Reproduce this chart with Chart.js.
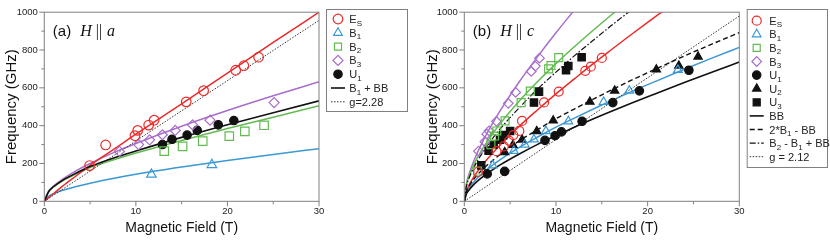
<!DOCTYPE html>
<html>
<head>
<meta charset="utf-8">
<script src="https://cdn.jsdelivr.net/npm/chart.js@4/dist/chart.umd.min.js"></script>
<style>
  body { margin: 0; background: #fff; }
  .panel { position: absolute; top: 0; width: 415px; height: 243px; }
</style>
</head>
<body>
<div class="panel" style="left:0"><canvas id="panelA" width="415" height="243"></canvas></div>
<div class="panel" style="left:415px"><canvas id="panelB" width="415" height="243"></canvas></div>
<script>
// ---- panel (a): H || a ----
const esFieldA = [4.95, 6.7, 9.9, 10.2, 11.4, 12.0, 15.5, 17.4, 20.9, 21.8, 23.4];
const esFreqA = [189, 298, 347, 375, 403, 429, 526, 585, 693, 717, 762];
const b1FieldA = [11.7, 18.3];
const b1FreqA = [142, 193];
const b2FieldA = [13.1, 15.1, 17.3, 20.2, 21.9, 24.0];
const b2FreqA = [265, 290, 318, 345, 370, 402];
const b3FieldA = [8.2, 10.3, 11.5, 12.9, 14.3, 16.2, 18.1, 25.1];
const b3FreqA = [264, 300, 325, 352, 375, 404, 429, 522];
const u1FieldA = [12.9, 13.95, 15.6, 16.7, 19.0, 20.7];
const u1FreqA = [300, 328, 350, 375, 404, 427];

// fitted curves of panel (a)
const curveFieldA = [0, 0.5, 1, 2, 3.5, 5, 7.5, 10, 15, 20, 25, 30];
const esCurveA = [0, 20, 40, 80, 135, 190, 272, 355, 515, 678, 840, 1000];
const b1CurveA = [0, 28, 40, 58, 78, 96, 121, 143, 181, 216, 248, 278];
const b2CurveA = [0, 52, 75, 108, 145, 178, 218, 255, 322, 385, 445, 505];
const b3CurveA = [0, 55, 80, 117, 162, 200, 256, 306, 397, 480, 558, 632];
const b1bbCurveA = [0, 53, 77, 111, 150, 184, 228, 266, 338, 405, 468, 531];
const gFieldA = [0, 30];
const gCurveA = [0, 957];

// ---- panel (b): H || c ----
const esFieldB = [1.5, 3.5, 4.3, 4.9, 5.35, 6.0, 6.3, 8.7, 10.3, 13.2, 13.8, 15.0];
const esFreqB = [155, 265, 290, 320, 350, 372, 425, 523, 580, 690, 712, 758];
const b1FieldB = [3.1, 5.4, 6.6, 7.6, 8.9, 11.35, 15.2, 18.0, 23.3];
const b1FreqB = [190, 267, 300, 327, 371, 423, 525, 585, 695];
const b2FieldB = [1.45, 2.9, 3.3, 3.55, 4.45, 6.2, 7.2, 9.2, 9.45, 10.3];
const b2FreqB = [160, 300, 345, 372, 425, 522, 583, 700, 718, 760];
const b3FieldB = [1.55, 2.25, 2.45, 2.7, 3.5, 4.8, 5.6, 7.3, 7.75, 8.2];
const b3FreqB = [265, 315, 355, 372, 423, 518, 576, 687, 715, 757];
const u1FieldB = [2.5, 4.4, 8.8, 9.9, 10.6, 12.85, 16.2, 19.1, 24.5];
const u1FreqB = [145, 158, 322, 347, 367, 423, 522, 584, 693];
const u2FieldB = [4.4, 5.3, 6.3, 7.9, 9.7, 13.7, 16.4, 20.95, 23.4, 25.5];
const u2FreqB = [260, 298, 326, 371, 427, 526, 585, 697, 717, 765];
const u3FieldB = [1.85, 2.65, 3.2, 3.9, 4.25, 5.0, 7.6, 8.15, 11.1, 11.35, 12.8];
const u3FreqB = [190, 268, 300, 326, 350, 372, 522, 580, 693, 715, 762];

const curveFieldB = [0, 0.25, 0.5, 1, 2, 3, 4, 6, 8, 10, 12, 15, 18, 21, 24, 27, 30];
const b1CurveB = [0, 48, 69, 101, 149, 188, 223, 285, 340, 392, 440, 509, 575, 637, 698, 757, 814];
const bbCurveB = [0, 41, 59, 87, 129, 164, 195, 250, 301, 347, 392, 455, 515, 572, 628, 683, 736];
const twoB1CurveB = [0, 54, 79, 115, 169, 212, 251, 320, 379, 437, 488, 563, 635, 702, 768, 831, 892];
const esCurveFieldB = [0, 0.25, 0.5, 1, 2, 3, 4, 6, 8, 10, 12, 14, 16, 18, 20, 22];
const esCurveB = [0, 57, 84, 127, 193, 250, 302, 397, 484, 568, 647, 725, 800, 874, 946, 1017];
const b3CurveFieldB = [0, 0.25, 0.5, 1, 2, 3, 4, 6, 8, 10, 12];
const b3CurveB = [0, 96, 141, 209, 316, 405, 486, 632, 765, 891, 1011];
const b2CurveFieldB = [0, 0.25, 0.5, 1, 2, 3, 4, 6, 8, 10, 12, 14, 16, 16.5];
const b2CurveB = [0, 90, 130, 189, 278, 351, 416, 530, 633, 728, 817, 902, 984, 1004];
const mixCurveFieldB = [0, 0.25, 0.5, 1, 2, 3, 4, 6, 8, 10, 12, 14, 16, 18];
const mixCurveB = [0, 83, 120, 175, 258, 327, 388, 495, 594, 683, 769, 849, 928, 1003];
const gFieldB = [0, 30];
const gCurveB = [0, 980];

const yTicks = [0, 200, 400, 600, 800, 1000];
const xTicks = [0, 10, 20, 30];

const RED = '#ec2a2a', BLUE = '#3b98d4', GREEN = '#62bb50', PURPLE = '#a86dca', BLACK = '#111';
const FONT = '"Liberation Sans", Arial, Helvetica, sans-serif';
const SERIF = '"Liberation Serif", "Times New Roman", serif';

function pts(xs, ys) {
  return xs.map((x, i) => ({ x: x, y: ys[i] }));
}

function markers(xs, ys, style, color, radius, filled) {
  return {
    data: pts(xs, ys), showLine: false, pointStyle: style, pointRadius: radius,
    borderColor: color, backgroundColor: filled ? color : 'rgba(0,0,0,0)',
    borderWidth: 1.2, pointBorderWidth: 1.2
  };
}

function curve(xs, ys, color, width, dash) {
  return {
    data: pts(xs, ys), showLine: true, borderColor: color, borderWidth: width,
    borderDash: dash || [], pointRadius: 0, cubicInterpolationMode: 'monotone', fill: false
  };
}

// draws a point symbol like chart.js does (used for the legend)
function drawMark(ctx, style, x, y, r) {
  ctx.beginPath();
  if (style === 'circle') {
    ctx.arc(x, y, r, 0, Math.PI * 2);
  } else if (style === 'triangle') {
    ctx.moveTo(x, y - r);
    ctx.lineTo(x + r * 0.866, y + r * 0.5);
    ctx.lineTo(x - r * 0.866, y + r * 0.5);
    ctx.closePath();
  } else if (style === 'rect') {
    const h = r * Math.SQRT1_2;
    ctx.rect(x - h, y - h, 2 * h, 2 * h);
  } else if (style === 'rectRot') {
    ctx.moveTo(x - r, y); ctx.lineTo(x, y - r); ctx.lineTo(x + r, y); ctx.lineTo(x, y + r);
    ctx.closePath();
  }
  ctx.fill();
  ctx.stroke();
}

// frame, minor ticks, panel label and boxed legend
const decor = {
  id: 'decor',
  afterDraw(chart, args, o) {
    const { ctx, chartArea: a, scales: { x, y } } = chart;
    ctx.save();
    ctx.strokeStyle = '#808080';
    ctx.lineWidth = 1;
    ctx.strokeRect(a.left, a.top, a.right - a.left, a.bottom - a.top);
    ctx.beginPath();
    for (let v = y.min; v <= y.max; v += 100) {
      const py = y.getPixelForValue(v);
      const len = yTicks.includes(v) ? 5 : 3;
      ctx.moveTo(a.left - len, py); ctx.lineTo(a.left, py);
    }
    for (let v = x.min; v <= x.max; v += 5) {
      const px = x.getPixelForValue(v);
      const len = xTicks.includes(v) ? 5 : 3;
      ctx.moveTo(px, a.bottom); ctx.lineTo(px, a.bottom + len);
    }
    ctx.stroke();

    // panel label, e.g. "(a) H || a"
    ctx.fillStyle = '#111';
    ctx.textBaseline = 'alphabetic';
    const by = a.top + 24;
    let tx = a.left + 8.5;
    ctx.font = '15px ' + FONT;
    ctx.fillText(o.tag, tx, by);
    tx += ctx.measureText(o.tag).width + 9;
    ctx.font = 'italic 16px ' + SERIF;
    ctx.fillText('H', tx, by);
    tx += ctx.measureText('H').width + 4;
    ctx.font = '16px ' + SERIF;
    ctx.fillText('||', tx, by);
    tx += ctx.measureText('||').width + 5;
    ctx.font = 'italic 16px ' + SERIF;
    ctx.fillText(o.dir, tx, by);

    // legend box
    const L = o.legend;
    ctx.strokeStyle = '#808080';
    ctx.lineWidth = 1;
    ctx.strokeRect(L.x + 0.5, L.y + 0.5, L.w, L.h);
    L.rows.forEach((row, i) => {
      const ds = chart.data.datasets[row.ds];
      const cy = L.y + L.first + i * L.step;
      const mx = L.x + L.markX;
      ctx.save();
      ctx.strokeStyle = ds.borderColor;
      ctx.fillStyle = ds.backgroundColor;
      ctx.lineWidth = ds.borderWidth;
      if (ds.showLine) {
        ctx.setLineDash(ds.borderDash || []);
        ctx.beginPath();
        ctx.moveTo(mx - 7, cy); ctx.lineTo(mx + 7, cy);
        ctx.stroke();
      } else {
        drawMark(ctx, ds.pointStyle, mx, cy, Math.min(ds.pointRadius, 5));
      }
      ctx.restore();
      let lx = L.x + L.textX;
      row.parts.forEach(p => {
        const sub = p[1] === 1;
        ctx.font = (sub ? '8px ' : '11px ') + FONT;
        ctx.fillStyle = '#222';
        ctx.fillText(p[0], lx, cy + (sub ? 6.5 : 4));
        lx += ctx.measureText(p[0]).width;
      });
    });
    ctx.restore();
  }
};

function scales(yWidth, yTitlePad) {
  return {
    x: {
      type: 'linear', min: 0, max: 30,
      grid: { display: false, drawTicks: false }, border: { display: false },
      afterBuildTicks: s => { s.ticks = xTicks.map(v => ({ value: v })); },
      ticks: { padding: 4, color: '#222', maxRotation: 0, font: { family: FONT, size: 9.5 }, callback: v => String(v) },
      title: { display: true, text: 'Magnetic Field (T)', color: '#111', font: { family: FONT, size: 14 }, padding: { top: 2, bottom: 6.5 } },
      afterFit: s => { s.height = 41.7; }
    },
    y: {
      type: 'linear', min: 0, max: 1000,
      grid: { display: false, drawTicks: false }, border: { display: false },
      afterBuildTicks: s => { s.ticks = yTicks.map(v => ({ value: v })); },
      ticks: { padding: 6.5, color: '#222', font: { family: FONT, size: 9.5 }, callback: v => String(v) },
      title: { display: true, text: 'Frequency (GHz)', color: '#111', font: { family: FONT, size: 15 }, padding: { top: yTitlePad, bottom: 0 } },
      afterFit: s => { s.width = yWidth; }
    }
  };
}

function baseOptions(yWidth, yTitlePad, rightPad, deco) {
  return {
    responsive: false, animation: false, events: [],
    layout: { padding: { left: 0, right: rightPad, top: 9.3, bottom: 0 } },
    scales: scales(yWidth, yTitlePad),
    plugins: { legend: { display: false }, tooltip: { enabled: false }, decor: deco }
  };
}

new Chart(document.getElementById('panelA'), {
  type: 'scatter',
  data: {
    datasets: [
      markers(esFieldA, esFreqA, 'circle', RED, 4.8, false),
      markers(b1FieldA, b1FreqA, 'triangle', BLUE, 5.5, false),
      markers(b2FieldA, b2FreqA, 'rect', GREEN, 6, false),
      markers(b3FieldA, b3FreqA, 'rectRot', PURPLE, 5, false),
      markers(u1FieldA, u1FreqA, 'circle', BLACK, 4.2, true),
      curve(curveFieldA, b1bbCurveA, BLACK, 1.6),
      curve(gFieldA, gCurveA, '#333', 1, [1.5, 1.5]),
      curve(curveFieldA, esCurveA, RED, 1.5),
      curve(curveFieldA, b1CurveA, BLUE, 1.5),
      curve(curveFieldA, b2CurveA, GREEN, 1.5),
      curve(curveFieldA, b3CurveA, PURPLE, 1.5)
    ]
  },
  options: baseOptions(44.3, 3.3, 96, {
    tag: '(a)', dir: 'a',
    legend: {
      x: 326, y: 9, w: 81, h: 102, first: 10, step: 13.8, markX: 12, textX: 23.3,
      rows: [
        { ds: 0, parts: [['E', 0], ['S', 1]] },
        { ds: 1, parts: [['B', 0], ['1', 1]] },
        { ds: 2, parts: [['B', 0], ['2', 1]] },
        { ds: 3, parts: [['B', 0], ['3', 1]] },
        { ds: 4, parts: [['U', 0], ['1', 1]] },
        { ds: 5, parts: [['B', 0], ['1', 1], [' + BB', 0]] },
        { ds: 6, parts: [['g=2.28', 0]] }
      ]
    }
  }),
  plugins: [decor]
});

new Chart(document.getElementById('panelB'), {
  type: 'scatter',
  data: {
    datasets: [
      markers(esFieldB, esFreqB, 'circle', RED, 4.5, false),
      markers(b1FieldB, b1FreqB, 'triangle', BLUE, 5, false),
      markers(b2FieldB, b2FreqB, 'rect', GREEN, 5.6, false),
      markers(b3FieldB, b3FreqB, 'rectRot', PURPLE, 4.8, false),
      markers(u1FieldB, u1FreqB, 'circle', BLACK, 4.2, true),
      markers(u2FieldB, u2FreqB, 'triangle', BLACK, 4.8, true),
      markers(u3FieldB, u3FreqB, 'rect', BLACK, 5.2, true),
      curve(curveFieldB, bbCurveB, BLACK, 1.6),
      curve(curveFieldB, twoB1CurveB, BLACK, 1.4, [5, 3]),
      curve(mixCurveFieldB, mixCurveB, BLACK, 1.2, [6, 2, 1.5, 2]),
      curve(gFieldB, gCurveB, '#333', 1, [1.5, 1.5]),
      curve(esCurveFieldB, esCurveB, RED, 1.5),
      curve(curveFieldB, b1CurveB, BLUE, 1.5),
      curve(b2CurveFieldB, b2CurveB, GREEN, 1.5),
      curve(b3CurveFieldB, b3CurveB, PURPLE, 1.5)
    ]
  },
  options: baseOptions(49.3, 8.5, 90.7, {
    tag: '(b)', dir: 'c',
    legend: {
      x: 331.7, y: 9, w: 80.3, h: 158, first: 11.7, step: 13.6, markX: 10, textX: 22.6,
      rows: [
        { ds: 0, parts: [['E', 0], ['S', 1]] },
        { ds: 1, parts: [['B', 0], ['1', 1]] },
        { ds: 2, parts: [['B', 0], ['2', 1]] },
        { ds: 3, parts: [['B', 0], ['3', 1]] },
        { ds: 4, parts: [['U', 0], ['1', 1]] },
        { ds: 5, parts: [['U', 0], ['2', 1]] },
        { ds: 6, parts: [['U', 0], ['3', 1]] },
        { ds: 7, parts: [['BB', 0]] },
        { ds: 8, parts: [['2*B', 0], ['1', 1], [' - BB', 0]] },
        { ds: 9, parts: [['B', 0], ['2', 1], [' - B', 0], ['1', 1], [' + BB', 0]] },
        { ds: 10, parts: [['g = 2.12', 0]] }
      ]
    }
  }),
  plugins: [decor]
});
</script>
</body>
</html>
